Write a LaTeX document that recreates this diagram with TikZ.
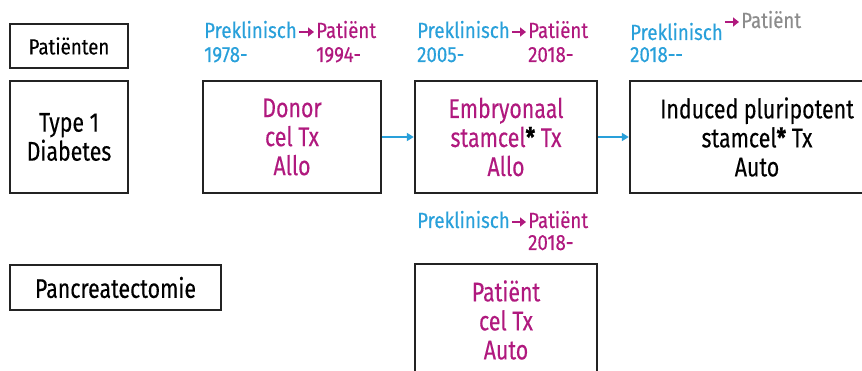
\documentclass[tikz,border=0pt]{standalone}
\usepackage{fontspec}
\setmainfont[FakeStretch=0.85,FakeBold=0.3]{Fira Sans}
\newfontfamily\boxfont[FakeStretch=0.79,FakeBold=0.3]{Fira Sans}
\usetikzlibrary{arrows.meta}
\definecolor{cblue}{RGB}{41,160,218}
\definecolor{cmag}{RGB}{176,25,126}
\definecolor{cgray}{RGB}{140,140,140}
\definecolor{cbox}{RGB}{35,35,35}
\begin{document}
\begin{tikzpicture}[x=1pt,y=-1pt,
  box/.style={draw=cbox,line width=2.4pt,inner sep=0pt,align=center,font=\boxfont\fontsize{27}{29}\selectfont},
  lab/.style={anchor=base west,inner sep=0pt,font=\fontsize{22}{24}\selectfont},
  conn/.style={cblue,line width=2pt,-{Triangle[length=7pt,width=8pt]}},
  small/.style={cmag,line width=2pt,-{Triangle[length=6pt,width=9pt]}}]
\useasboundingbox (0,0) rectangle (862,371);
% boxes
\node[box,minimum width=118pt,minimum height=44pt,font=\fontsize{22}{24}\selectfont] (pat) at (69,46) {Patiënten};
\node[box,minimum width=118pt,minimum height=112pt] (t1d) at (69,137) {Type 1\\Diabetes};
\node[box,minimum width=178pt,minimum height=112pt,text=cmag] (don) at (292,137) {Donor\\cel Tx\\Allo};
\node[box,minimum width=182pt,minimum height=112pt,text=cmag] (emb) at (506,137) {Embryonaal\\stamcel\textcolor{black}{\textbf{*}} Tx\\Allo};
\node[box,minimum width=254pt,minimum height=112pt] (ind) at (757,137) {Induced pluripotent\\stamcel\textbf{*} Tx\\Auto};
\node[box,minimum width=211pt,minimum height=45pt] (pan) at (115.5,287.5) {Pancreatectomie};
\node[box,minimum width=182pt,minimum height=112pt,text=cmag] (auto) at (506,320) {Patiënt\\cel Tx\\Auto};
% connectors
\draw[conn] (don.east) -- (emb.west);
\draw[conn] (emb.east) -- (ind.west);
% labels column 1
\node[lab,text=cblue] (p1) at (204,38) {Preklinisch};
\node[lab,text=cmag] (q1) at (316,38) {Patiënt};
\node[lab,text=cblue] (y1) at (204,62) {1978-};
\node[lab,text=cmag] (z1) at (316,62) {1994-};
\draw[small] ([xshift=2pt,yshift=6pt]p1.base east) -- ([xshift=-2pt,yshift=6pt]q1.base west);
% column 2
\node[lab,text=cblue] (p2) at (417,38) {Preklinisch};
\node[lab,text=cmag] (q2) at (528,38) {Patiënt};
\node[lab,text=cblue] (y2) at (417,62) {2005-};
\node[lab,text=cmag] (z2) at (528,62) {2018-};
\draw[small] ([xshift=2pt,yshift=6pt]p2.base east) -- ([xshift=-2pt,yshift=6pt]q2.base west);
% column 3
\node[lab,text=cblue] (p3) at (630,40) {Preklinisch};
\node[lab,text=cgray] (q3) at (741,28) {Patiënt};
\node[lab,text=cblue] (y3) at (630,62) {2018-{}-};
\draw[small] ([xshift=2pt,yshift=6pt]q3.base west -| p3.east) -- ([xshift=-2pt,yshift=6pt]q3.base west);
% lower
\node[lab,text=cblue] (p4) at (417,228) {Preklinisch};
\node[lab,text=cmag] (q4) at (528,228) {Patiënt};
\node[lab,text=cmag] (z4) at (528,250) {2018-};
\draw[small] ([xshift=2pt,yshift=6pt]p4.base east) -- ([xshift=-2pt,yshift=6pt]q4.base west);
\end{tikzpicture}
\end{document}
